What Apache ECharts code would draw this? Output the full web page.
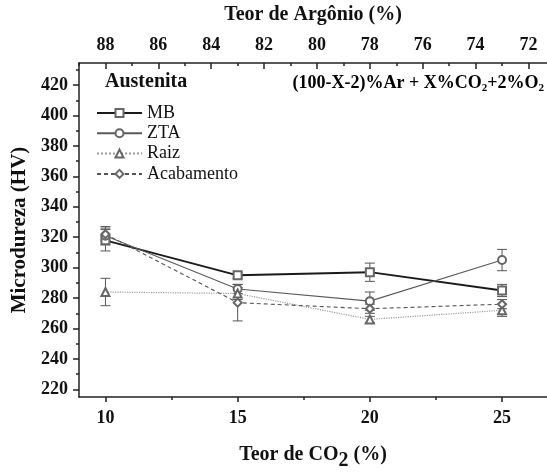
<!DOCTYPE html>
<html>
<head>
<meta charset="utf-8">
<script src="https://cdn.jsdelivr.net/npm/echarts@6/dist/echarts.min.js"></script>
<style>
  html, body { margin: 0; padding: 0; background: #fff; }
  #chart { width: 547px; height: 476px; }
</style>
</head>
<body>
<div id="chart"></div>
<script>
// CO2 content (%) of the shielding gas
const co2 = [10, 15, 20, 25];

// Microhardness (HV) per region, with standard deviations
const mb = [318, 295, 297, 285];
const mbErr = [7, 2, 6, 4];
const zta = [321, 286, 278, 305];
const ztaErr = [6, 3, 6, 7];
const raiz = [284, 283, 266, 272];
const raizErr = [9, 4, 2, 4];
const acab = [322, 277, 273, 276];
const acabErr = [4, 12, 3, 3];

// Tick labels
const yMajor = [220, 240, 260, 280, 300, 320, 340, 360, 380, 400, 420];
const yMinor = [230, 250, 270, 290, 310, 330, 350, 370, 390, 410, 430];
const xMajor = [10, 15, 20, 25];
const xMinor = [12.5, 17.5, 22.5];
const arMajor = [72, 74, 76, 78, 80, 82, 84, 86, 88];
const arMinor = [73, 75, 77, 79, 81, 83, 85, 87, 89];

const FONT = 'Liberation Serif';
const chart = echarts.init(document.getElementById('chart'), null, { renderer: 'canvas' });

const pts = (vals) => co2.map((x, i) => [x, vals[i]]);
const bars = (vals, errs) => co2.map((x, i) => [x, vals[i] - errs[i], vals[i] + errs[i]]);

// vertical error bar with short caps
function errorBar(color) {
  return function (params, api) {
    const x = api.value(0);
    const lo = api.coord([x, api.value(1)]);
    const hi = api.coord([x, api.value(2)]);
    const w = 5;
    const style = { stroke: color, lineWidth: 1 };
    return {
      type: 'group',
      children: [
        { type: 'line', shape: { x1: hi[0], y1: hi[1], x2: lo[0], y2: lo[1] }, style },
        { type: 'line', shape: { x1: hi[0] - w, y1: hi[1], x2: hi[0] + w, y2: hi[1] }, style },
        { type: 'line', shape: { x1: lo[0] - w, y1: lo[1], x2: lo[0] + w, y2: lo[1] }, style }
      ]
    };
  };
}

const xMin = 9, xMax = 26.7;
const labelStyle = { fontFamily: FONT, fontWeight: 'bold', fontSize: 18, color: '#111' };
const lineAxis = { show: true, lineStyle: { color: '#222', width: 1.5 } };
const tickLine = { color: '#222', width: 1.5 };

const seriesDefs = [
  { name: 'MB', vals: mb, errs: mbErr, symbol: 'emptyRect', line: { color: '#1a1a1a', width: 1.8, type: 'solid' } },
  { name: 'ZTA', vals: zta, errs: ztaErr, symbol: 'emptyCircle', line: { color: '#5a5a5a', width: 1.1, type: 'solid' } },
  { name: 'Raiz', vals: raiz, errs: raizErr, symbol: 'emptyTriangle', line: { color: '#9a9a9a', width: 1.2, type: 'dotted' } },
  { name: 'Acabamento', vals: acab, errs: acabErr, symbol: 'emptyDiamond', line: { color: '#555', width: 1.1, type: [4, 3] } }
];

const series = [];
seriesDefs.forEach(d => {
  series.push({
    name: d.name + ' err',
    type: 'custom',
    xAxisIndex: 0, yAxisIndex: 0,
    renderItem: errorBar('#555'),
    data: bars(d.vals, d.errs),
    z: 2,
    silent: true
  });
});
seriesDefs.forEach(d => {
  series.push({
    name: d.name,
    type: 'line',
    xAxisIndex: 0, yAxisIndex: 0,
    data: pts(d.vals),
    symbol: d.symbol,
    symbolSize: 8,
    showAllSymbol: true,
    lineStyle: d.line,
    itemStyle: { color: '#666', borderWidth: 1 },
    z: 3
  });
});

const option = {
  animation: false,
  backgroundColor: '#fff',
  grid: { left: 79, right: 0, top: 56, bottom: 70, containLabel: false },
  legend: {
    orient: 'vertical',
    left: 96,
    top: 104,
    padding: 0,
    itemWidth: 45,
    itemHeight: 10,
    itemGap: 2.3,
    data: seriesDefs.map(d => d.name),
    textStyle: { fontFamily: FONT, fontSize: 18, color: '#111' }
  },
  xAxis: [
    {
      type: 'value', position: 'bottom', min: xMin, max: xMax,
      axisLine: lineAxis,
      axisTick: { show: true, customValues: xMajor, length: 5, lineStyle: tickLine },
      axisLabel: { show: true, customValues: xMajor, margin: 12, ...labelStyle },
      splitLine: { show: false },
      name: '{a|Teor de CO}{s|2}{a| (%)}',
      nameLocation: 'middle', nameGap: 42,
      nameTextStyle: {
        rich: {
          a: { fontFamily: FONT, fontWeight: 'bold', fontSize: 20, color: '#111' },
          s: { fontFamily: FONT, fontWeight: 'bold', fontSize: 20, color: '#111', verticalAlign: 'bottom', padding: [12, 0, 0, 0] }
        }
      }
    },
    {
      type: 'value', position: 'bottom', min: xMin, max: xMax,
      axisLine: { show: false },
      axisTick: { show: true, customValues: xMinor, length: 3, lineStyle: tickLine },
      axisLabel: { show: false },
      splitLine: { show: false }
    },
    {
      type: 'value', position: 'top', min: 98 - xMax, max: 98 - xMin, inverse: true,
      axisLine: lineAxis,
      axisTick: { show: true, inside: true, customValues: arMajor, length: 6, lineStyle: tickLine },
      axisLabel: { show: true, customValues: arMajor, margin: 9, ...labelStyle },
      splitLine: { show: false },
      name: 'Teor de Argônio (%)',
      nameLocation: 'middle', nameGap: 38,
      nameTextStyle: { fontFamily: FONT, fontWeight: 'bold', fontSize: 20, color: '#111' }
    },
    {
      type: 'value', position: 'top', min: 98 - xMax, max: 98 - xMin, inverse: true,
      axisLine: { show: false },
      axisTick: { show: true, inside: true, customValues: arMinor, length: 3, lineStyle: tickLine },
      axisLabel: { show: false },
      splitLine: { show: false }
    }
  ],
  yAxis: [
    {
      type: 'value', position: 'left', min: 215, max: 434.5,
      axisLine: lineAxis,
      axisTick: { show: true, customValues: yMajor, length: 6, lineStyle: tickLine },
      axisLabel: { show: true, customValues: yMajor, margin: 11, ...labelStyle },
      splitLine: { show: false },
      name: 'Microdureza (HV)',
      nameLocation: 'middle', nameGap: 49, nameRotate: 90,
      nameTextStyle: { fontFamily: FONT, fontWeight: 'bold', fontSize: 21, color: '#111' }
    },
    {
      type: 'value', position: 'left', min: 215, max: 434.5,
      axisLine: { show: false },
      axisTick: { show: true, customValues: yMinor, length: 3, lineStyle: tickLine },
      axisLabel: { show: false },
      splitLine: { show: false }
    }
  ],
  graphic: [
    {
      type: 'text', left: 105, top: 72,
      style: { text: 'Austenita', fontFamily: FONT, fontWeight: 'bold', fontSize: 20, fill: '#111' }
    },
    {
      type: 'text', right: 3, top: 74,
      style: {
        text: '{a|(100-X-2)%Ar + X%CO}{s|2}{a|+2%O}{s|2}',
        rich: {
          a: { fontFamily: FONT, fontWeight: 'bold', fontSize: 18, color: '#111' },
          s: { fontFamily: FONT, fontWeight: 'bold', fontSize: 11, color: '#111', padding: [10, 0, 0, 0] }
        }
      }
    }
  ],
  series
};

chart.setOption(option);
</script>
</body>
</html>
